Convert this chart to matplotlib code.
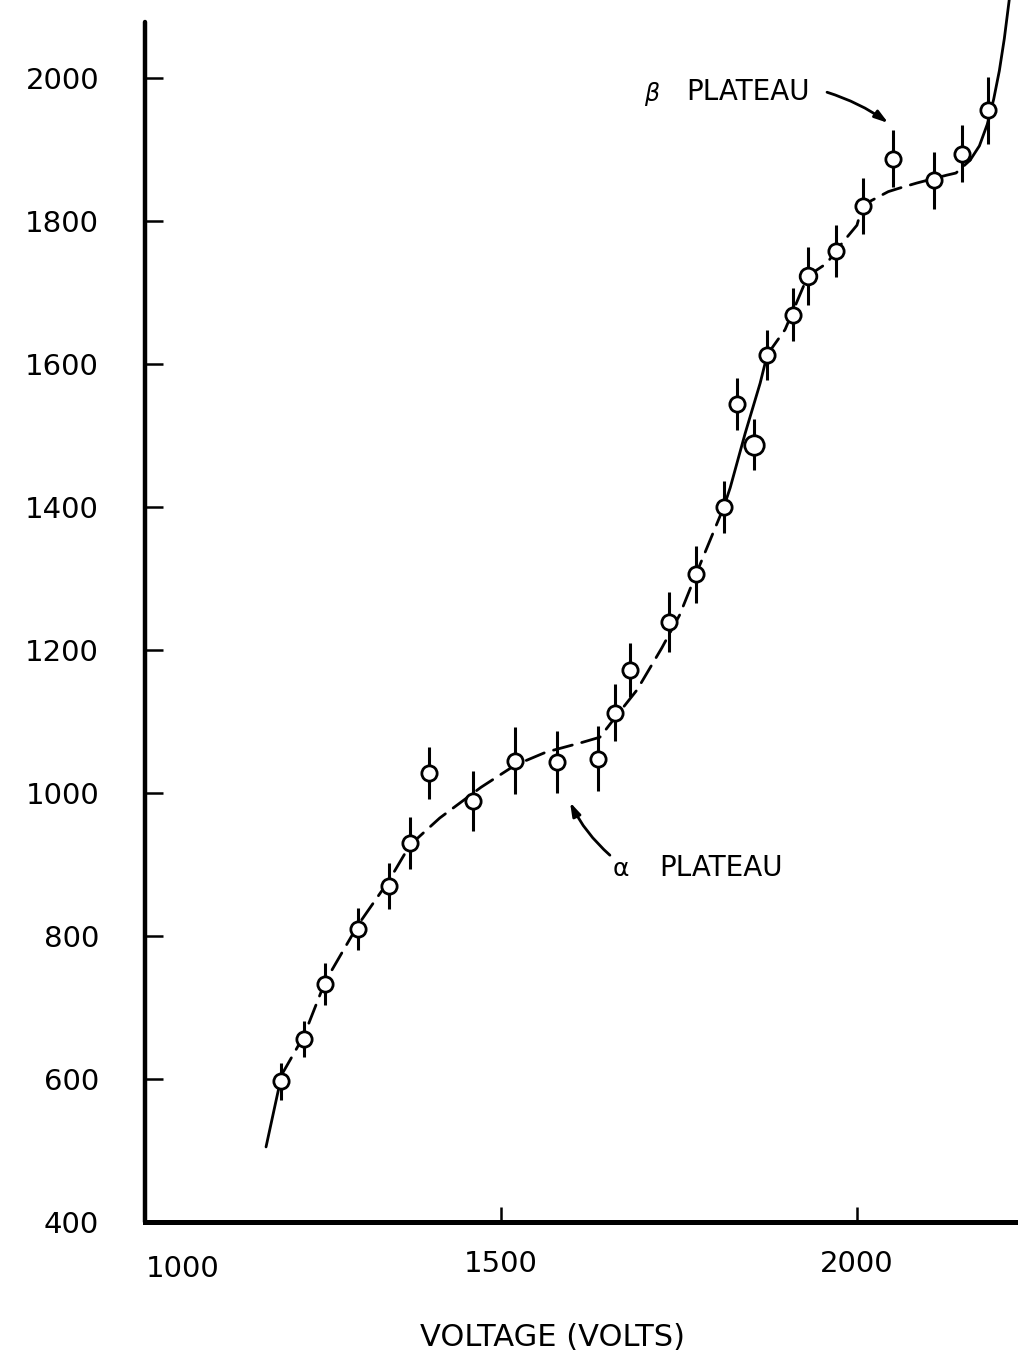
import matplotlib
matplotlib.use("Agg")
import matplotlib.pyplot as plt
import numpy as np

# Counting rate vs. applied voltage, with statistical error bars
voltage = [1191, 1223, 1253, 1299, 1343, 1372, 1399, 1461, 1520, 1579, 1636, 1660,
           1681, 1736, 1774, 1813, 1831, 1855, 1874, 1910, 1931, 1970, 2008, 2051,
           2108, 2147, 2184]
counts = [597, 656, 733, 810, 870, 930, 1028, 989, 1045, 1043, 1048, 1112,
          1172, 1239, 1306, 1400, 1544, 1487, 1613, 1669, 1723, 1758, 1821, 1887,
          1857, 1894, 1955]
count_err = [26, 25, 29, 29, 32, 36, 36, 42, 47, 43, 45, 40,
             38, 42, 40, 37, 36, 36, 35, 37, 40, 37, 39, 40,
             40, 40, 47]

# Hand-drawn guide curve through the data
curve_v = [1170, 1192, 1223, 1253, 1299, 1343, 1372, 1414, 1472, 1520, 1563, 1615,
           1639, 1660, 1691, 1726, 1751, 1774, 1813, 1822, 1843, 1864, 1874, 1899,
           1917, 1931, 1958, 1970, 2000, 2008, 2044, 2060, 2084, 2126, 2139, 2159,
           2172, 2183, 2192, 2200, 2207, 2214]
curve_n = [505, 606, 660, 736, 815, 878, 927, 965, 1008, 1039, 1057, 1071,
           1078, 1105, 1144, 1203, 1249, 1306, 1400, 1427, 1503, 1573, 1613, 1648,
           1690, 1723, 1741, 1758, 1794, 1822, 1841, 1846, 1853, 1864, 1867, 1885,
           1905, 1935, 1970, 2010, 2055, 2110]

x_ticks = [1500, 2000]
y_ticks = [400, 600, 800, 1000, 1200, 1400, 1600, 1800, 2000]

W, H = 1021, 1364
fig = plt.figure(figsize=(W / 100, H / 100), dpi=100)
ax = fig.add_axes([145 / W, 142 / H, 870 / W, 1222 / H])
ax.set_xlim(1000, 2222)
ax.set_ylim(400, 2109)

lw = 2.0
cv = np.array(curve_v)
cn = np.array(curve_n)


def seg(lo, hi, style):
    m = (cv >= lo) & (cv <= hi)
    ax.plot(cv[m], cn[m], color="black", lw=lw, zorder=2, solid_capstyle="round",
            solid_joinstyle="round", dash_capstyle="round", **style)


dashed = dict(linestyle=(0, (7, 3.5)))
solid = dict(linestyle="-")
seg(1170, 1192, solid)
seg(1192, 1813, dashed)
seg(1813, 1874, solid)
seg(1874, 2159, dashed)
seg(2159, 2214, solid)

ms = [11] * len(voltage)
ms[17] = 14
ms[20] = 12
for v, n, e, s in zip(voltage, counts, count_err, ms):
    ax.errorbar(v, n, yerr=e, fmt="o", color="black", ecolor="black", elinewidth=2.2,
                capsize=0, markersize=s, markerfacecolor="white",
                markeredgecolor="black", markeredgewidth=2.0, zorder=3)

# Axes styling
for side in ("top", "right"):
    ax.spines[side].set_visible(False)
ax.spines["left"].set_linewidth(3.2)
ax.spines["bottom"].set_linewidth(3.6)
ax.spines["left"].set_bounds(400, 2078)
ax.spines["left"].set_capstyle("round")

ax.set_xticks(x_ticks)
ax.set_xticklabels([str(t) for t in x_ticks])
ax.set_yticks(y_ticks)
ax.set_yticklabels([str(t) for t in y_ticks])
ax.tick_params(axis="y", direction="in", length=13, width=1.8, pad=33, labelsize=21)
ax.tick_params(axis="x", direction="in", length=11, width=1.8, pad=20, labelsize=21)
ax.annotate("1000", xy=(1000, 400), xycoords="data", xytext=(38, -47),
            textcoords="offset pixels", ha="center", va="center", fontsize=21)

fig.text(552 / W, 1 - 1338 / H, "VOLTAGE (VOLTS)", ha="center", va="center", fontsize=22)

# Plateau annotations
ax.text(1712, 1977, "β", fontsize=17, style="italic", ha="center", va="center")
ax.text(1760, 1980, "PLATEAU", fontsize=20, ha="left", va="center")
ax.annotate("", xy=(2044, 1937), xytext=(1958, 1980),
            arrowprops=dict(arrowstyle="-|>,head_length=0.8,head_width=0.25",
                            color="black", lw=2.0, shrinkA=0, shrinkB=0,
                            connectionstyle="arc3,rad=-0.08"))

ax.text(1669, 893, "α", fontsize=18, ha="center", va="center")
ax.text(1723, 895, "PLATEAU", fontsize=20, ha="left", va="center")
ax.annotate("", xy=(1597, 987), xytext=(1653, 913),
            arrowprops=dict(arrowstyle="-|>,head_length=0.8,head_width=0.25",
                            color="black", lw=2.0, shrinkA=0, shrinkB=0,
                            connectionstyle="arc3,rad=-0.1"))

fig.savefig("out.png", dpi=100, facecolor="white")
